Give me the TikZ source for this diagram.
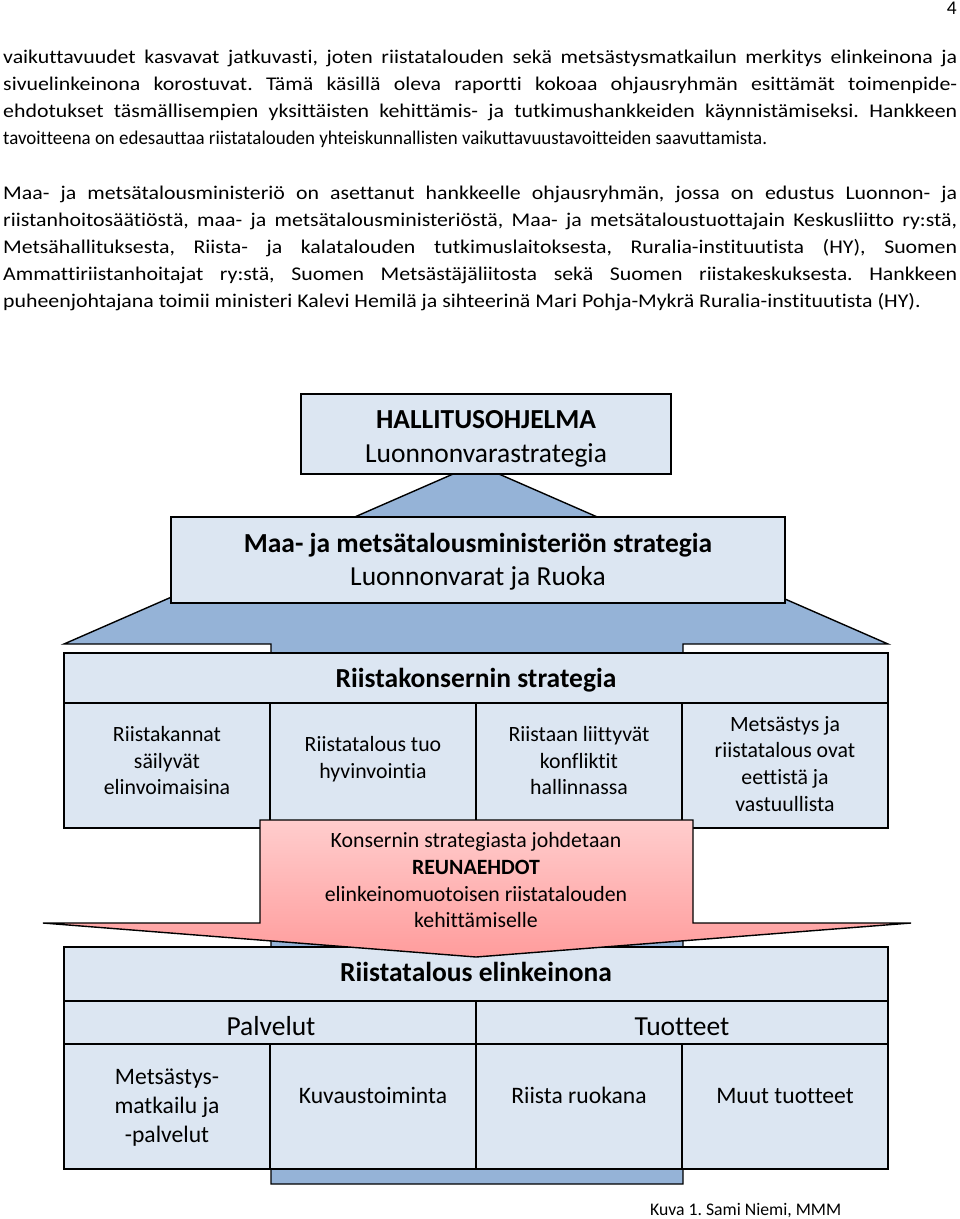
\documentclass[tikz,border=0pt]{standalone}
\usepackage{fontspec}
\setmainfont{Carlito}[Ligatures=CommonOff]
\frenchspacing
\definecolor{boxblue}{HTML}{DCE6F2}
\definecolor{arrowblue}{HTML}{95B3D7}
\definecolor{pinktop}{HTML}{FFCDCD}
\definecolor{pinkbot}{HTML}{FF9C9C}
\newcommand\fsz[1]{\fontsize{#1}{#1}\selectfont}
\newcommand\jlineB[3]{\node[bodyB] (#1) at (3,#2) {\makebox[848pt][s]{#3}};}
\begin{document}
\begin{tikzpicture}[x=1pt,y=-1pt,
  body/.style={anchor=base west,inner sep=0pt,font=\fsz{19.4}},
  bodyA/.style={body,xscale=0.975},
  bodyB/.style={body,xscale=1.125},
  bbox/.style={draw=black,line width=1.4pt,fill=boxblue,inner sep=0pt},
  head/.style={anchor=base,inner sep=0pt,font=\fsz{27.5}\bfseries},
  sub/.style={anchor=base,inner sep=0pt,font=\fsz{27.5}},
  cell/.style={anchor=base,inner sep=0pt,font=\fsz{21.8}},
  cellb/.style={anchor=base,inner sep=0pt,font=\fsz{23.6}},
  shapeline/.style={draw=black,line width=1.4pt,line join=miter}]
\useasboundingbox (0,0) rectangle (960,1219);
% page number
\node[anchor=base east,inner sep=0pt,font=\fsz{19.4}] (pg) at (957,14) {4};
% paragraph 1
\jlineB{a1}{63}{vaikuttavuudet kasvavat jatkuvasti, joten riistatalouden sekä metsästysmatkailun merkitys elinkeinona ja}
\jlineB{a2}{90}{sivuelinkeinona korostuvat. Tämä käsillä oleva raportti kokoaa ohjausryhmän esittämät toimenpide-}
\jlineB{a3}{117}{ehdotukset täsmällisempien yksittäisten kehittämis- ja tutkimushankkeiden käynnistämiseksi. Hankkeen}
\node[bodyA] (a4) at (3,144) {tavoitteena on edesauttaa riistatalouden yhteiskunnallisten vaikuttavuustavoitteiden saavuttamista.};
% paragraph 2
\jlineB{b1}{199}{Maa- ja metsätalousministeriö on asettanut hankkeelle ohjausryhmän, jossa on edustus Luonnon- ja}
\jlineB{b2}{226}{riistanhoitosäätiöstä, maa- ja metsätalousministeriöstä, Maa- ja metsätaloustuottajain Keskusliitto ry:stä,}
\jlineB{b3}{253}{Metsähallituksesta, Riista- ja kalatalouden tutkimuslaitoksesta, Ruralia-instituutista (HY), Suomen}
\jlineB{b4}{280}{Ammattiriistanhoitajat ry:stä, Suomen Metsästäjäliitosta sekä Suomen riistakeskuksesta. Hankkeen}
\node[bodyB] (b5) at (3,307) {puheenjohtajana toimii ministeri Kalevi Hemilä ja sihteerinä Mari Pohja-Mykrä Ruralia-instituutista (HY).};
% big up arrow
\path[shapeline,fill=arrowblue] (476,464) -- (888,644) -- (683,644) -- (683,1184)
  -- (271,1184) -- (271,644) -- (64,644) -- cycle;
% boxes
\node[bbox,minimum width=370pt,minimum height=80pt] (hal) at (486,434) {};
\node[bbox,minimum width=614pt,minimum height=86pt] (mmm) at (478,560) {};
\node[bbox,minimum width=824pt,minimum height=50pt] (rk) at (476,678) {};
\node[bbox,minimum width=206pt,minimum height=125pt] (c1) at (167,765.5) {};
\node[bbox,minimum width=206pt,minimum height=125pt] (c2) at (373,765.5) {};
\node[bbox,minimum width=206pt,minimum height=125pt] (c3) at (579,765.5) {};
\node[bbox,minimum width=206pt,minimum height=125pt] (c4) at (785,765.5) {};
\node[bbox,minimum width=824pt,minimum height=54pt] (re) at (476,974) {};
\node[bbox,minimum width=412pt,minimum height=43pt] (pal) at (270,1022.5) {};
\node[bbox,minimum width=412pt,minimum height=43pt] (tuo) at (682,1022.5) {};
\node[bbox,minimum width=206pt,minimum height=125pt] (d1) at (167,1106.5) {};
\node[bbox,minimum width=206pt,minimum height=125pt] (d2) at (373,1106.5) {};
\node[bbox,minimum width=206pt,minimum height=125pt] (d3) at (579,1106.5) {};
\node[bbox,minimum width=206pt,minimum height=125pt] (d4) at (785,1106.5) {};
% pink down arrow
\path[shapeline,top color=pinktop,bottom color=pinkbot] (260,820) -- (693,820) -- (693,923)
  -- (911,923) -- (476,957) -- (43,923) -- (260,923) -- cycle;
% texts
\node[head] (t1) at (486,428) {HALLITUSOHJELMA};
\node[sub]  (t2) at (486,462) {Luonnonvarastrategia};
\node[head] (t3) at (478,552) {Maa- ja metsätalousministeriön strategia};
\node[sub]  (t4) at (478,585) {Luonnonvarat ja Ruoka};
\node[head] (t5) at (476,687) {Riistakonsernin strategia};
\node[cell] (c1a) at (167,741) {Riistakannat};
\node[cell] (c1b) at (167,768) {säilyvät};
\node[cell] (c1c) at (167,794) {elinvoimaisina};
\node[cell] (c2a) at (373,751) {Riistatalous tuo};
\node[cell] (c2b) at (373,778) {hyvinvointia};
\node[cell] (c3a) at (579,741) {Riistaan liittyvät};
\node[cell] (c3b) at (579,768) {konfliktit};
\node[cell] (c3c) at (579,794) {hallinnassa};
\node[cell] (c4a) at (785,731) {Metsästys ja};
\node[cell] (c4b) at (785,757) {riistatalous ovat};
\node[cell] (c4c) at (785,784) {eettistä ja};
\node[cell] (c4d) at (785,811) {vastuullista};
\node[cell] (p1) at (476,847) {Konsernin strategiasta johdetaan};
\node[cell,font=\fsz{21.8}\bfseries] (p2) at (476,874) {REUNAEHDOT};
\node[cell] (p3) at (476,901) {elinkeinomuotoisen riistatalouden};
\node[cell] (p4) at (476,927) {kehittämiselle};
\node[head] (t6) at (476,981) {Riistatalous elinkeinona};
\node[sub] (t7) at (271,1035) {Palvelut};
\node[sub] (t8) at (682,1035) {Tuotteet};
\node[cellb] (d1a) at (167,1084) {Metsästys-};
\node[cellb] (d1b) at (167,1113) {matkailu ja};
\node[cellb] (d1c) at (167,1142) {-palvelut};
\node[cellb] (d2a) at (373,1103) {Kuvaustoiminta};
\node[cellb] (d3a) at (579,1103) {Riista ruokana};
\node[cellb] (d4a) at (785,1103) {Muut tuotteet};
\node[anchor=base west,inner sep=0pt,font=\fsz{17.7}] (cap) at (650,1215) {Kuva 1. Sami Niemi, MMM};
\end{tikzpicture}
\end{document}
